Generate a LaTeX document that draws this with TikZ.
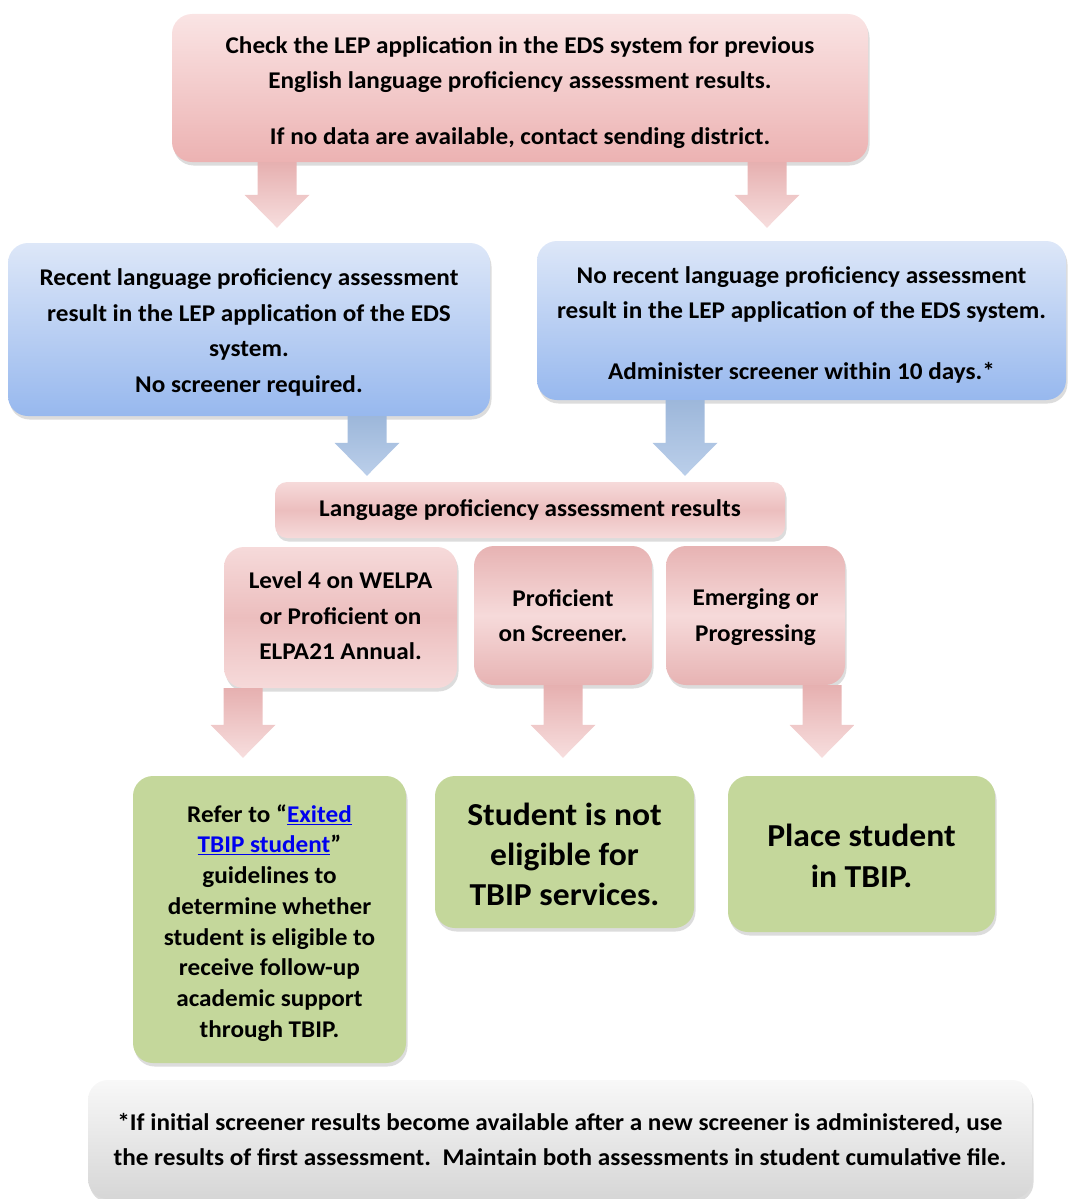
\documentclass[tikz,border=0pt]{standalone}
\usepackage{fontspec}
\setmainfont{Carlito}[FakeStretch=1.05]
\usetikzlibrary{shadows,calc}
\definecolor{pkA}{HTML}{FAE4E4}
\definecolor{pkB}{HTML}{ECB2B2}
\definecolor{pkC}{HTML}{F6DADA}
\definecolor{pkD}{HTML}{E7B3B3}
\definecolor{pkE}{HTML}{ECBEBE}
\definecolor{blA}{HTML}{DDE7F8}
\definecolor{blB}{HTML}{97B8EE}
\definecolor{grn}{HTML}{C4D79B}
\definecolor{gyA}{HTML}{F8F8F8}
\definecolor{gyB}{HTML}{D6D6D6}
\definecolor{linkblue}{HTML}{0000EE}
\definecolor{barA}{HTML}{9DB7DA}
\definecolor{barB}{HTML}{BBCFEA}
\definecolor{parA}{HTML}{E6B0B0}
\definecolor{parB}{HTML}{F7DEDE}
\pgfdeclareverticalshading{darkmid}{100bp}{color(0bp)=(pkC); color(25bp)=(pkC); color(50bp)=(pkE); color(75bp)=(pkC); color(100bp)=(pkC)}
\pgfdeclareverticalshading{lightmid}{100bp}{color(0bp)=(pkD); color(25bp)=(pkD); color(50bp)=(pkC); color(75bp)=(pkD); color(100bp)=(pkD)}
% text block lowered by #1 without changing its reported extent
\newcommand{\lowtext}[2]{\raisebox{-#1}[\height][\depth]{\begin{tabular}{@{}c@{}}#2\end{tabular}}}
\begin{document}
\begin{tikzpicture}[x=1pt,y=-1pt,
  agap/.initial=15pt,
  box/.style={rounded corners=20pt, inner sep=0pt, align=center,
    font=\bfseries\fontsize{24}{35.5}\selectfont,
    drop shadow={opacity=0.28, shadow xshift=1.5pt, shadow yshift=-3.5pt}},
  pinkbox/.style={box, top color=pkA, bottom color=pkB},
  bluebox/.style={box, top color=blA, bottom color=blB},
  greenbox/.style={box, fill=grn},
  fatarrow/.style={to path={let \p1=(\tikztostart), \p2=(\tikztotarget) in
    (\x1-19.5pt,\y1) -- (\x1-19.5pt,\y2+\pgfkeysvalueof{/tikz/agap}+33pt)
    -- (\x1-32.5pt,\y2+\pgfkeysvalueof{/tikz/agap}+33pt)
    -- (\x1,\y2+\pgfkeysvalueof{/tikz/agap})
    -- (\x1+32.5pt,\y2+\pgfkeysvalueof{/tikz/agap}+33pt)
    -- (\x1+19.5pt,\y2+\pgfkeysvalueof{/tikz/agap}+33pt)
    -- (\x1+19.5pt,\y1) -- cycle}},
  pinkarrow/.style={fatarrow, top color=parA, bottom color=parB},
  bluearrow/.style={fatarrow, top color=barA, bottom color=barB}
]
\useasboundingbox (0,0) rectangle (1068,1199);
\clip (0,0) rectangle (1068,1199);

% boxes
\node[pinkbox, minimum width=696pt, minimum height=148pt] (top) at (520,88)
  {\lowtext{3.5pt}{Check the LEP application in the EDS system for previous\\
   English language proficiency assessment results.\\[20pt]
   If no data are available, contact sending district.}};

\node[bluebox, minimum width=482pt, minimum height=173pt] (lb) at (249,329.5)
  {\lowtext{2.5pt}{Recent language proficiency assessment\\
   result in the LEP application of the EDS\\
   system.\\
   No screener required.}};

\node[bluebox, minimum width=529pt, minimum height=159pt] (rb) at (801.5,320.5)
  {\lowtext{3.5pt}{No recent language proficiency assessment\\
   result in the LEP application of the EDS system.\\[25pt]
   Administer screener within 10 days.*}};

\node[box, shading=darkmid, rounded corners=12pt,
  minimum width=510pt, minimum height=56pt] (lang) at (530,510)
  {Language proficiency assessment results};

\node[box, shading=darkmid,
  minimum width=233pt, minimum height=141pt] (lvl) at (340.5,617.5)
  {\lowtext{-0.5pt}{Level 4 on WELPA\\ or Proficient on\\ ELPA21 Annual.}};

\node[box, shading=lightmid,
  minimum width=178pt, minimum height=139pt] (prof) at (563,615.5)
  {Proficient\\ on Screener.};

\node[box, shading=lightmid,
  minimum width=179pt, minimum height=139pt] (emer) at (755.5,615.5)
  {\lowtext{1pt}{Emerging or\\ Progressing}};

\node[greenbox, font=\bfseries\fontsize{24}{30.7}\selectfont,
  minimum width=273pt, minimum height=287pt] (gl) at (269.5,919.5)
  {\lowtext{4pt}{Refer to “\textcolor{linkblue}{\underline{Exited}}\\
   \textcolor{linkblue}{\underline{TBIP student}}”\\
   guidelines to\\ determine whether\\ student is eligible to\\
   receive follow-up\\ academic support\\ through TBIP.}};

\node[greenbox, font=\bfseries\fontsize{32}{40}\selectfont,
  minimum width=259pt, minimum height=152pt] (gm) at (564.5,852)
  {\lowtext{5pt}{Student is not\\ eligible for\\ TBIP services.}};

\node[greenbox, font=\bfseries\fontsize{32}{41}\selectfont,
  minimum width=267pt, minimum height=156pt] (gr) at (861.5,854)
  {\lowtext{4.5pt}{Place student\\ in TBIP.}};

\node[box, top color=gyA, bottom color=gyB, font=\bfseries\fontsize{24}{35}\selectfont,
  minimum width=944pt, minimum height=119pt] (foot) at (560,1139.5)
  {*If initial screener results become available after a new screener is administered, use\\
   the results of first assessment.\ \ Maintain both assessments in student cumulative file.};

% arrows
\path[pinkarrow, agap=15pt] (top.south -| 277,0) to (lb.north -| 277,0);
\path[pinkarrow, agap=13pt] (top.south -| 767,0) to (rb.north -| 767,0);
\path[bluearrow, agap=6pt] (lb.south -| 367,0) to (lang.north -| 367,0);
\path[bluearrow, agap=6pt] (rb.south -| 685,0) to (lang.north -| 685,0);
\path[pinkarrow, agap=18pt] (lvl.south -| 243,0) to (gl.north -| 243,0);
\path[pinkarrow, agap=18pt] (prof.south -| 563,0) to (gm.north -| 563,0);
\path[pinkarrow, agap=18pt] (emer.south -| 822,0) to (gr.north -| 822,0);
\end{tikzpicture}
\end{document}
